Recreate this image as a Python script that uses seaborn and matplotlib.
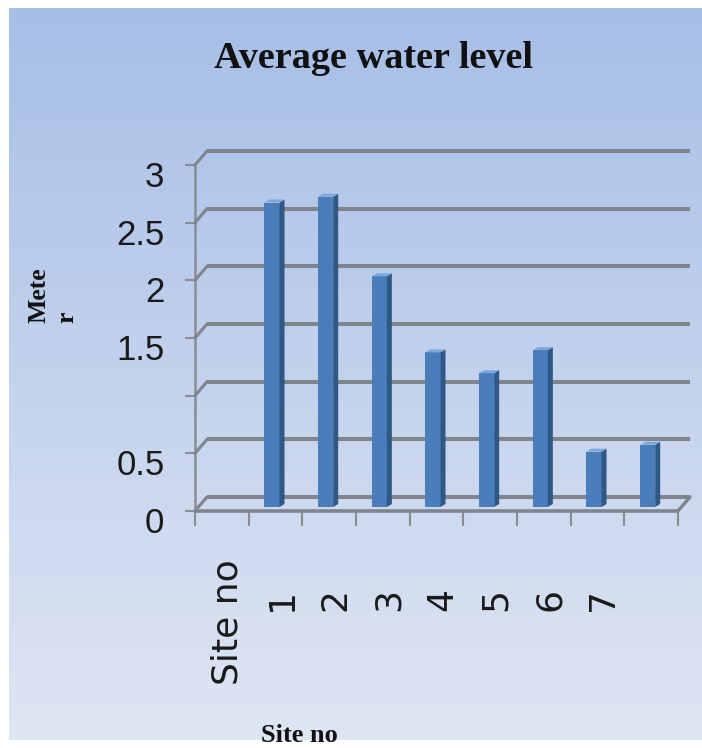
import numpy as np
import pandas as pd
import matplotlib
matplotlib.use("Agg")
import matplotlib.pyplot as plt
import seaborn as sns
from matplotlib import font_manager as fm
from matplotlib.transforms import ScaledTranslation, IdentityTransform
from matplotlib.patches import Polygon
from matplotlib.lines import Line2D

# ---- data -------------------------------------------------------------
sites = ["Site no", "1", "2", "3", "4", "5", "6", "7", ""]
water_level = [np.nan, 2.64, 2.69, 2.00, 1.34, 1.16, 1.36, 0.48, 0.54]
y_ticks = [0, 0.5, 1, 1.5, 2, 2.5, 3]
y_tick_labels = ["0", "0.5", "", "1.5", "2", "2.5", "3"]

title_text = "Average water level"
x_title = "Site no"
y_title = "Mete\nr"

# ---- style ------------------------------------------------------------
W, H, DPI = 702, 748, 100
sns.set_theme(style="white")
plt.rcParams["font.family"] = ["DejaVu Sans"]

installed = {f.name for f in fm.fontManager.ttflist}
if "Liberation Sans Narrow" in installed:
    num_font, num_size = "Liberation Sans Narrow", 27
else:
    num_font, num_size = "Liberation Sans", 25

front_col = "#4a7ebb"
side_col = "#2f5887"
top_col = "#7ea6d8"
grid_col = "#7f848d"
axis_col = "#8a8d93"

fig = plt.figure(figsize=(W / DPI, H / DPI), dpi=DPI, facecolor="white")

# soft vertical gradient behind the chart
bg = fig.add_axes([9 / W, 8 / H, (W - 9) / W, (H - 16) / H], zorder=-10)
c_top = np.array([0.655, 0.745, 0.905])
c_bot = np.array([0.872, 0.902, 0.953])
t = np.linspace(0, 1, 256)[:, None]
grad = (c_top * (1 - t) + c_bot * t)[:, None, :]
bg.imshow(grad, aspect="auto", extent=[0, 1, 0, 1], origin="upper")
bg.set_axis_off()

# plot area (front plane of the 3-D box)
ax = fig.add_axes([195 / W, 1 - 511 / H, 483 / W, 346 / H])
ax.patch.set_alpha(0)

df = pd.DataFrame({"site": sites, "level": water_level})
sns.barplot(data=df, x="site", y="level", order=sites, color=front_col,
            saturation=1, width=0.28, linewidth=0, ax=ax, zorder=3)

ax.set_xlim(-0.5, len(sites) - 0.5)
ax.set_ylim(0, 3)
ax.set_xlabel("")
ax.set_ylabel("")


def shifted(dx_px, dy_px):
    return ax.transData + ScaledTranslation(dx_px / DPI, dy_px / DPI,
                                            fig.dpi_scale_trans)


# back-wall gridlines with their short diagonals to the front axis
depth = (12, 14)
x_lo, x_hi = -0.5, len(sites) - 0.5
for v in y_ticks:
    ax.plot([x_lo, x_hi], [v, v], transform=shifted(*depth), color=grid_col,
            lw=2.9, solid_capstyle="butt", zorder=1, clip_on=False)
    p0 = ax.transData.transform((x_lo, v))
    fig.add_artist(Line2D([p0[0], p0[0] + depth[0]], [p0[1], p0[1] + depth[1]],
                          transform=IdentityTransform(), color=grid_col,
                          lw=2.2, zorder=1))

# floor: front edge and right-hand diagonal
ax.plot([x_lo, x_hi], [0, 0], color=grid_col, lw=2.6, zorder=4,
        solid_capstyle="butt", clip_on=False)
pr = ax.transData.transform((x_hi, 0))
fig.add_artist(Line2D([pr[0], pr[0] + depth[0]], [pr[1], pr[1] + depth[1]],
                      transform=IdentityTransform(), color=grid_col, lw=2.4))

# give the bars a little depth: shift to mid-depth, add side and top faces
bar_shift = (-3.5, 4)
face_depth = (5, 3)
for p in list(ax.patches):
    h = p.get_height()
    if not np.isfinite(h) or h <= 0:
        continue
    x0, w = p.get_x(), p.get_width()
    trans = shifted(*bar_shift)
    p.set_transform(trans)
    (xl, yb), (xr, yt) = trans.transform([(x0, 0), (x0 + w, h)])
    dx, dy = face_depth
    side = Polygon([(xr, yb), (xr, yt), (xr + dx, yt + dy), (xr + dx, yb + dy)],
                   closed=True, transform=IdentityTransform(), facecolor=side_col,
                   edgecolor="none", zorder=3)
    top = Polygon([(xl, yt), (xr, yt), (xr + dx, yt + dy), (xl + dx, yt + dy)],
                  closed=True, transform=IdentityTransform(), facecolor=top_col,
                  edgecolor="none", zorder=3)
    ax.add_patch(side)
    ax.add_patch(top)

# spines and ticks
for s in ["top", "right", "bottom"]:
    ax.spines[s].set_visible(False)
ax.spines["left"].set_color(axis_col)
ax.spines["left"].set_linewidth(1.8)

ax.set_yticks(y_ticks)
ax.set_yticklabels(y_tick_labels)
ax.tick_params(axis="y", direction="out", length=7, width=1.5, color=axis_col,
               pad=15, labelsize=num_size, labelcolor="#1a1a1a", left=True)
for lab in ax.get_yticklabels():
    lab.set_family([num_font, "DejaVu Sans"])
    lab.set_transform(lab.get_transform() +
                      ScaledTranslation(0, -9 / DPI, fig.dpi_scale_trans))

ax.set_xticks(range(len(sites)))
ax.set_xticklabels(sites, rotation=90, va="top", ha="center")
ax.set_xticks(np.arange(len(sites) + 1) - 0.5, minor=True)
ax.tick_params(axis="x", which="major", length=0, pad=35, labelsize=26,
               labelcolor="#1a1a1a")
ax.tick_params(axis="x", which="minor", direction="out", length=11, width=1.5,
               color=axis_col, bottom=True)
for i, lab in enumerate(ax.get_xticklabels()):
    drop = 0 if i == 0 else 28
    lab.set_transform(lab.get_transform() +
                      ScaledTranslation(6 / DPI, -drop / DPI, fig.dpi_scale_trans))

# titles
fig.text(374 / W, 1 - 68 / H, title_text, ha="center", va="baseline",
         fontsize=27.5, fontweight="bold", family="Liberation Serif", color="#111111")
fig.text(299 / W, 1 - 742 / H, x_title, ha="center", va="baseline",
         fontsize=19, fontweight="bold", family="Liberation Serif", color="#111111")
fig.text(27 / W, 1 - 323 / H, y_title, ha="left", va="bottom", rotation=90,
         multialignment="left", linespacing=1.3, fontsize=18.5, fontweight="bold",
         family="Liberation Serif", color="#111111")

fig.savefig("out.png", dpi=DPI, facecolor="white")
